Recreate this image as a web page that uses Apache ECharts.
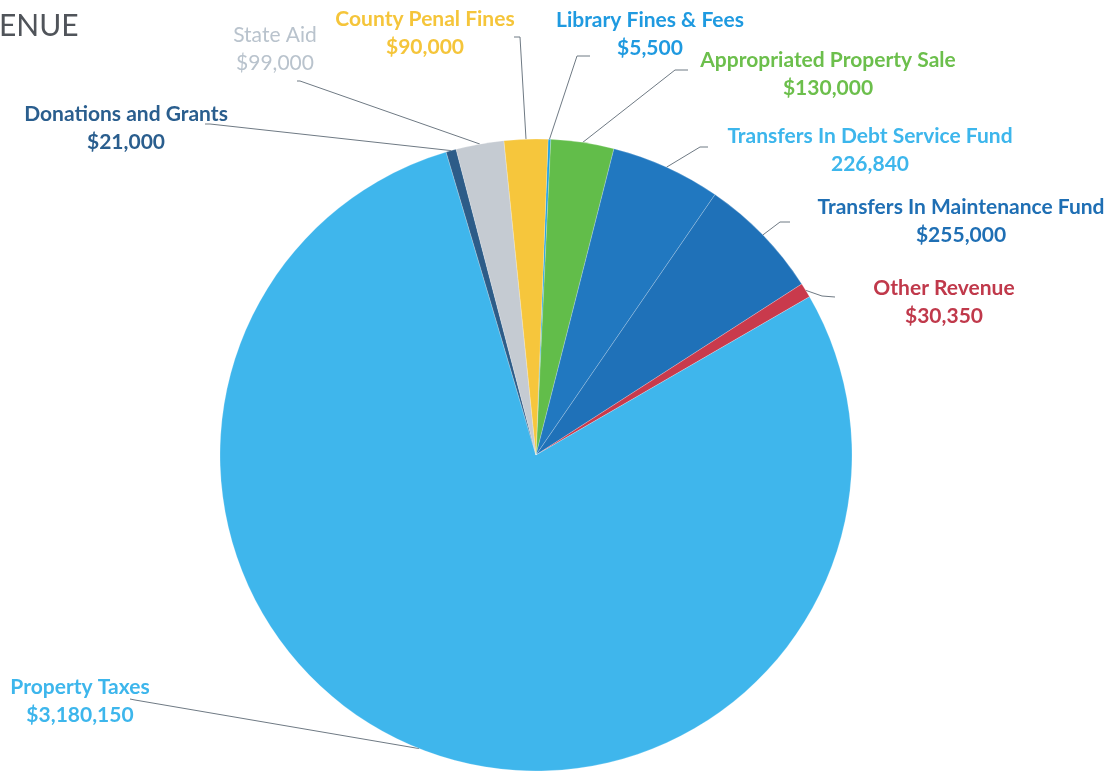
<!DOCTYPE html>
<html>
<head>
<meta charset="utf-8">
<style>
  html, body { margin: 0; padding: 0; background: #ffffff; }
  #chart { width: 1117px; height: 774px; }
</style>
<script src="https://cdn.jsdelivr.net/npm/echarts@6/dist/echarts.min.js"></script>
</head>
<body>
<div id="chart"></div>
<script>
// ---- data ----
const categories = [
  'Library Fines & Fees',
  'Appropriated Property Sale',
  'Transfers In Debt Service Fund',
  'Transfers In Maintenance Fund',
  'Other Revenue',
  'Property Taxes',
  'Donations and Grants',
  'State Aid',
  'County Penal Fines'
];
const values = [5500, 130000, 226840, 255000, 30350, 3180150, 21000, 99000, 90000];
const currencyPrefix = ['$', '$', '', '$', '$', '$', '$', '$', '$'];

// ---- styles ----
const sliceColors = ['#1f9fe0', '#62bd4a', '#2178c0', '#1f71b8', '#c93a4c', '#3fb6ec', '#2d5c88', '#c5cbd2', '#f6c63c'];
const labelColors = ['#1f9ae0', '#6cbf4c', '#3db6ec', '#1f6fb4', '#c0394b', '#3db6ec', '#2a5e8e', '#b9c3cd', '#f5c53a'];
const labelWeights = ['bold', 'bold', 'bold', 'bold', 'bold', 'bold', 'bold', 'normal', 'bold'];
// label block centres and leader-line elbow/end points (layout only)
const labelCenters = [[650, 34], [828, 74], [870, 150], [961, 221], [944, 302], [80, 701], [126, 128], [275, 49], [425, 33]];
const leaderPoints = [
  [[577, 56], [590, 56]],
  [[675, 70], [688, 70]],
  [[700, 147], [708, 147]],
  [[780, 222], [790, 222]],
  [[822, 296], [835, 297]],
  [[135, 700], [130, 699]],
  [[210, 124], [205, 124]],
  [[300, 81], [297, 81]],
  [[520, 37], [514, 37]]
];

const chart = echarts.init(document.getElementById('chart'), null, { renderer: 'canvas' });

const data = categories.map((name, i) => ({
  name: name,
  value: values[i],
  itemStyle: { color: sliceColors[i] },
  label: {
    rich: {
      n: { color: labelColors[i], fontWeight: labelWeights[i], fontSize: 21, lineHeight: 28, fontFamily: 'Lato', align: 'center' },
      v: { color: labelColors[i], fontWeight: labelWeights[i], fontSize: 21, lineHeight: 28, fontFamily: 'Lato', align: 'center' }
    }
  }
}));

chart.setOption({
  animation: false,
  backgroundColor: '#ffffff',
  title: {
    text: 'ENUE',
    left: -6,
    top: 6,
    textStyle: { fontFamily: 'Lato', fontWeight: 'normal', fontSize: 30, color: '#50545a' }
  },
  series: [{
    type: 'pie',
    center: [536, 455],
    radius: 316,
    startAngle: 87.8,
    clockwise: true,
    avoidLabelOverlap: false,
    itemStyle: { borderWidth: 0.6, borderColor: 'rgba(255,255,255,0.35)' },
    label: {
      show: true,
      position: 'outside',
      align: 'center',
      formatter: (p) => '{n|' + p.name + '}\n{v|' + currencyPrefix[p.dataIndex] + p.value.toLocaleString('en-US') + '}'
    },
    labelLine: {
      show: true,
      length: 20,
      length2: 10,
      lineStyle: { color: '#6f7a84', width: 1 }
    },
    labelLayout: function (params) {
      const i = params.dataIndex;
      const anchor = params.labelLinePoints ? params.labelLinePoints[0] : null;
      const res = {
        x: labelCenters[i][0],
        y: labelCenters[i][1],
        align: 'center',
        verticalAlign: 'middle'
      };
      if (anchor) {
        res.labelLinePoints = [anchor, leaderPoints[i][0], leaderPoints[i][1]];
      }
      return res;
    },
    data: data
  }]
});
</script>
</body>
</html>
